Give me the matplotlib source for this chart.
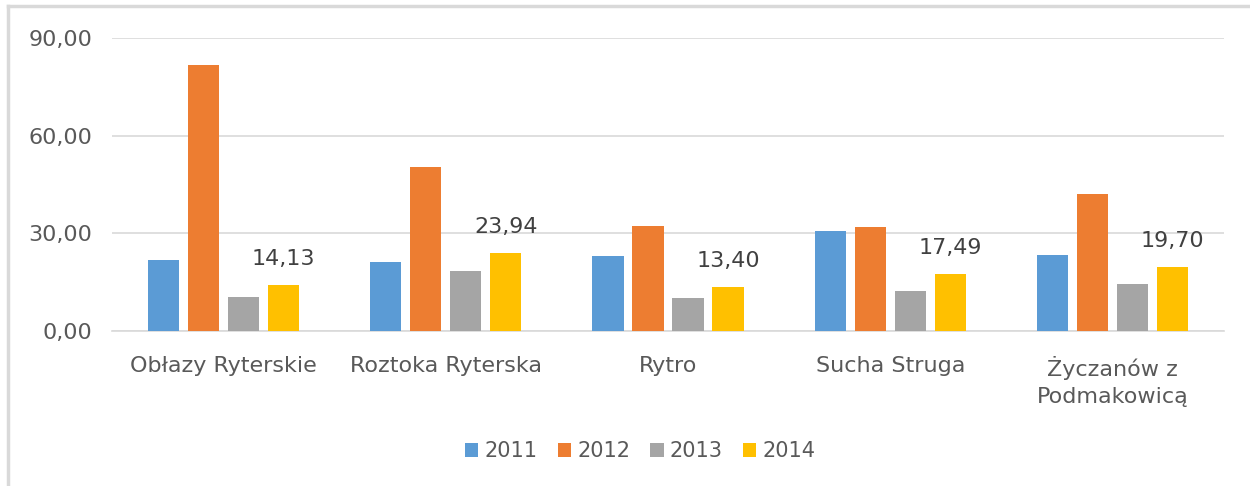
import matplotlib.pyplot as plt
import numpy as np
from matplotlib.lines import Line2D

# dane
kategorie = ["Obłazy Ryterskie", "Roztoka Ryterska", "Rytro", "Sucha Struga", "Życzanów z\nPodmakowicą"]
lata = ["2011", "2012", "2013", "2014"]
w2011 = [21.8, 21.2, 23.0, 30.7, 23.3]
w2012 = [81.7, 50.3, 32.2, 31.9, 42.0]
w2013 = [10.5, 18.4, 10.1, 12.3, 14.3]
w2014 = [14.13, 23.94, 13.40, 17.49, 19.70]
kolory = ["#5b9bd5", "#ed7d31", "#a5a5a5", "#ffc000"]

serie = [w2011, w2012, w2013, w2014]

fig = plt.figure(figsize=(12.5, 4.86), dpi=100)
ax = fig.add_axes([112 / 1250, 1 - 331 / 486, (1224 - 112) / 1250, (331 - 38) / 486])

x = np.arange(len(kategorie))
krok = 0.18
szer = 0.14
for i, (s, k, rok) in enumerate(zip(serie, kolory, lata)):
    poz = x + (i - 1.5) * krok
    bary = ax.bar(poz, s, width=szer, color=k, label=rok, zorder=3)
    if rok == "2014":
        for b, v in zip(bary, s):
            ax.text(b.get_x() + b.get_width() / 2, v + 5, f"{v:.2f}".replace(".", ","),
                    ha="center", va="bottom", fontsize=16, color="#404040")

ax.set_xlim(-0.5, len(kategorie) - 0.5)
ax.set_ylim(0, 90)
ax.set_yticks([0, 30, 60, 90])
ax.set_yticklabels(["0,00", "30,00", "60,00", "90,00"])
ax.set_xticks(x)
ax.set_xticklabels(kategorie, linespacing=1.45)
ax.tick_params(axis="both", length=0, labelsize=16, colors="#595959")
ax.tick_params(axis="y", pad=14)
ax.tick_params(axis="x", pad=18)
ax.grid(axis="y", color="#d9d9d9", linewidth=1.2, zorder=0)
for sp in ["top", "right", "left"]:
    ax.spines[sp].set_visible(False)
ax.spines["bottom"].set_color("#d9d9d9")
ax.spines["bottom"].set_linewidth(1.2)

leg = ax.legend(loc="center", bbox_to_anchor=(0.475, -0.41), ncol=4, frameon=False,
                fontsize=15, handlelength=0.65, handleheight=0.65, handletextpad=0.3,
                columnspacing=0.95)
for t in leg.get_texts():
    t.set_color("#595959")

# ramka wykresu
fig.add_artist(Line2D([8 / 1250, 1], [1 - 6 / 486, 1 - 6 / 486], color="#d9d9d9", linewidth=2.5))
fig.add_artist(Line2D([8 / 1250, 8 / 1250], [0, 1 - 6 / 486], color="#d9d9d9", linewidth=2.5))

fig.savefig("out.png", dpi=100)
